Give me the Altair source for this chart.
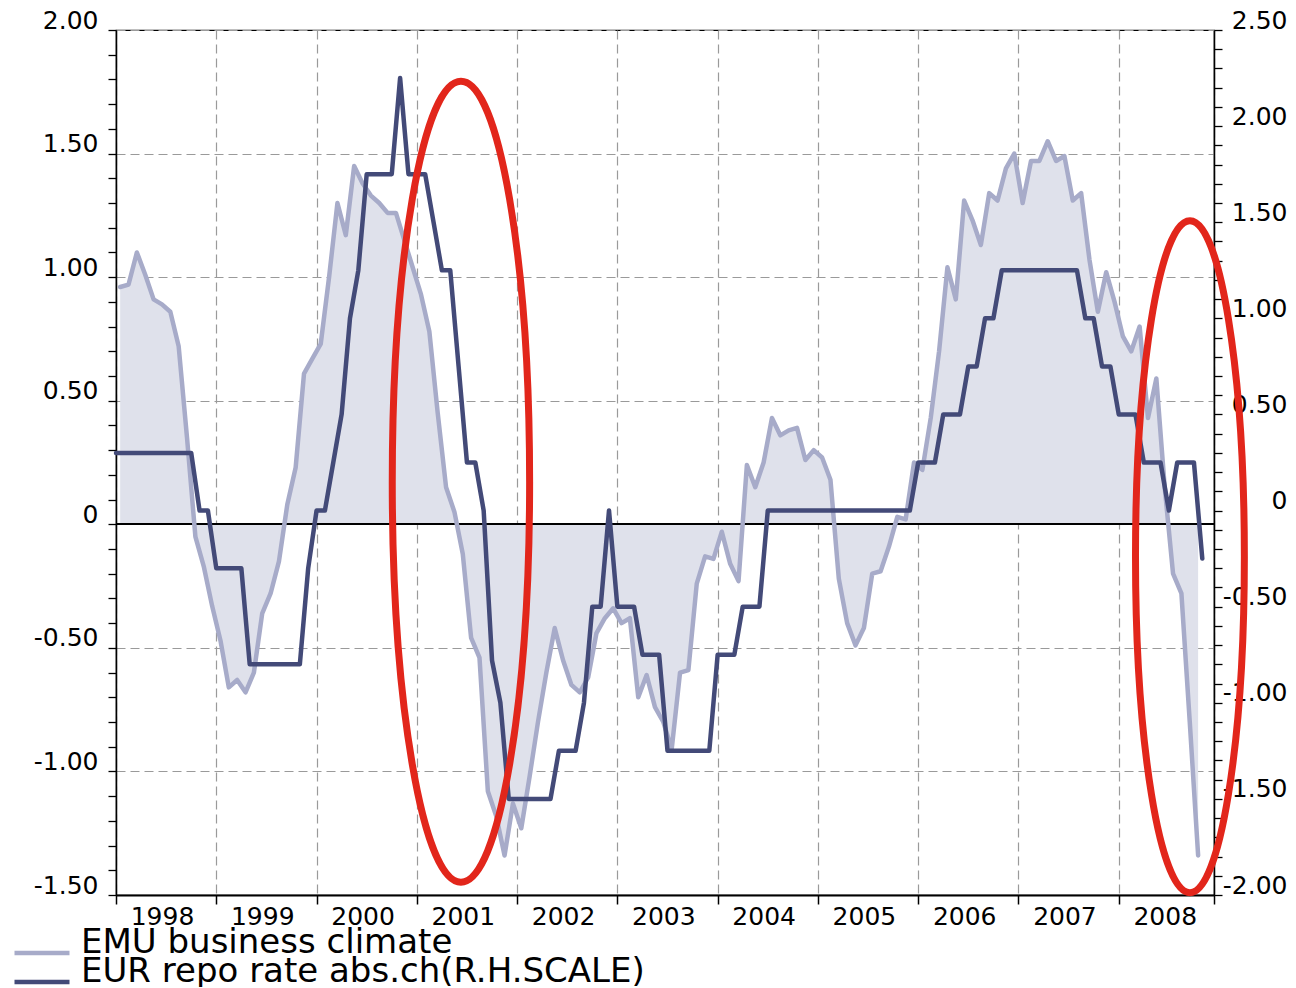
import altair as alt
import pandas as pd

# ---------------- data ----------------
series_names = ["EMU business climate", "EUR repo rate abs.ch(R.H.SCALE)"]
series_colors = ["#a7abc9", "#434a78"]
fill_color = "#dfe1eb"
red = "#e2261b"

# EMU business climate, monthly Jan 1998 .. Oct 2008 (left scale, plotted mid-month)
emu_values = [
    0.96, 0.97, 1.10, 1.01, 0.91, 0.89, 0.86, 0.72, 0.35, -0.05, -0.17, -0.33,
    -0.47, -0.66, -0.63, -0.68, -0.60, -0.36, -0.28, -0.15, 0.08, 0.23, 0.61, 0.67,
    0.73, 1.00, 1.30, 1.17, 1.45, 1.38, 1.33, 1.30, 1.26, 1.26, 1.15, 1.04,
    0.93, 0.78, 0.45, 0.15, 0.05, -0.12, -0.46, -0.54, -1.08, -1.18, -1.34, -1.13,
    -1.23, -1.02, -0.80, -0.60, -0.42, -0.55, -0.65, -0.68, -0.62, -0.44, -0.38, -0.34,
    -0.40, -0.38, -0.70, -0.61, -0.74, -0.80, -0.91, -0.60, -0.59, -0.24, -0.13, -0.14,
    -0.03, -0.16, -0.23, 0.24, 0.15, 0.25, 0.43, 0.36, 0.38, 0.39, 0.26, 0.30,
    0.27, 0.18, -0.22, -0.40, -0.49, -0.42, -0.20, -0.19, -0.09, 0.03, 0.02, 0.25,
    0.22, 0.43, 0.70, 1.04, 0.91, 1.31, 1.23, 1.13, 1.34, 1.31, 1.44, 1.50,
    1.30, 1.47, 1.47, 1.55, 1.47, 1.49, 1.31, 1.34, 1.07, 0.86, 1.02, 0.90,
    0.76, 0.70, 0.80, 0.43, 0.59, 0.15, -0.20, -0.28, -0.80, -1.34,
]

# EUR repo rate abs. change, month-end Dec 1997 .. Oct 2008 (right scale)
repo_values = [
    0.30, 0.30, 0.30, 0.30, 0.30, 0.30, 0.30, 0.30, 0.30, 0.30,
    0.00, 0.00, -0.30, -0.30, -0.30, -0.30,
    -0.80, -0.80, -0.80, -0.80, -0.80, -0.80, -0.80, -0.30, 0.00, 0.00,
    0.25, 0.50, 1.00, 1.25, 1.75, 1.75, 1.75, 1.75, 2.25, 1.75, 1.75, 1.75,
    1.50, 1.25, 1.25, 0.75, 0.25, 0.25, 0.00, -0.78, -1.00,
    -1.50, -1.50, -1.50, -1.50, -1.50, -1.50, -1.25, -1.25, -1.25, -1.00,
    -0.50, -0.50, 0.00, -0.50, -0.50, -0.50, -0.75, -0.75, -0.75,
    -1.25, -1.25, -1.25, -1.25, -1.25, -1.25, -0.75, -0.75, -0.75,
    -0.50, -0.50, -0.50,
    0.00, 0.00, 0.00, 0.00, 0.00, 0.00, 0.00, 0.00, 0.00, 0.00, 0.00, 0.00,
    0.00, 0.00, 0.00, 0.00, 0.00, 0.00,
    0.25, 0.25, 0.25, 0.50, 0.50, 0.50, 0.75, 0.75, 1.00, 1.00,
    1.25, 1.25, 1.25, 1.25, 1.25, 1.25, 1.25, 1.25, 1.25, 1.25,
    1.00, 1.00, 0.75, 0.75, 0.50, 0.50, 0.50, 0.25, 0.25, 0.25,
    0.00, 0.25, 0.25, 0.25, -0.25,
]

year_ticks = list(range(1998, 2009))
x_domain = [1998, 2008.95]
left_domain = [-1.5, 2.0]
right_domain = [-2.0, 2.5]

# red annotation ellipses: centres in (year, right-scale value)
ellipse_t = [2001.44, 2008.71]
ellipse_v = [0.15, -0.24]

# ---------------- tables ----------------
emu_df = pd.DataFrame({
    "t": [1998 + (i + 0.5) / 12 for i in range(len(emu_values))],
    "v": emu_values,
    "s": series_names[0],
})
repo_df = pd.DataFrame({
    "t": [1998 + j / 12 for j in range(len(repo_values))],
    "v": repo_values,
    "s": series_names[1],
})

FONT = "DejaVu Sans"

def ellipse_path(a):
    k = 0.5523
    return (f"M{a},0 C{a},{k} {a*k:.4f},1 0,1 C{-a*k:.4f},1 {-a},{k} {-a},0 "
            f"C{-a},{-k} {-a*k:.4f},-1 0,-1 C{a*k:.4f},-1 {a},{-k} {a},0 Z")

half_test = "abs(datum.value*2 - round(datum.value*2)) < 0.001"
label_expr = (f"({half_test}) ? (abs(datum.value) < 0.001 ? '0' : "
              "((datum.value < 0 ? '-' : '') + format(abs(datum.value), '.2f'))) : ''")

left_ticks = [round(-1.5 + 0.1 * k, 1) for k in range(36)]
right_ticks = [round(-2.0 + 0.1 * k, 1) for k in range(46)]

x_axis = alt.Axis(
    values=year_ticks + [x_domain[1]], tickCount=500,
    labelExpr="datum.value == round(datum.value) ? '' + datum.value : ''",
    title=None, grid=True, gridColor="#9a9a9a", gridDash=[9, 5], gridWidth=1.2,
    tickSize=9, tickWidth=1.5, tickColor="black", domainColor="black", domainWidth=2,
    labelOffset=46, labelPadding=0, labelFlush=False, labelOverlap=False,
    labelBound=False,
)
left_axis = alt.Axis(
    values=left_ticks, tickCount=500, labelExpr=label_expr, title=None, orient="left",
    grid=True, gridColor="#9a9a9a", gridDash=[9, 5], gridWidth=1.2,
    gridOpacity={"condition": {"test": half_test, "value": 1}, "value": 0},
    tickSize=8, tickWidth=1.3, tickColor="black", domainColor="black", domainWidth=1.5,
    labelPadding=10, labelBaseline="alphabetic", labelOffset=-2,
    labelOverlap=False, labelFlush=False, labelBound=False,
)
right_axis = alt.Axis(
    values=right_ticks, tickCount=500, labelExpr=label_expr, title=None, orient="right",
    grid=False, tickSize=8, tickWidth=1.3, tickColor="black", domainColor="black",
    domainWidth=1.5, labelAlign="right", labelPadding=65, labelBaseline="alphabetic",
    labelOffset=-2, labelOverlap=False, labelFlush=False, labelBound=False,
)

x_enc = alt.X("t:Q", scale=alt.Scale(domain=x_domain, nice=False, zero=False), axis=x_axis)
left_y = alt.Y("v:Q", scale=alt.Scale(domain=left_domain, nice=False, zero=False), axis=left_axis)
right_y = alt.Y("v:Q", scale=alt.Scale(domain=right_domain, nice=False, zero=False), axis=right_axis)


def legend_for(ly):
    return alt.Legend(
        orient="none", legendX=-104, legendY=ly, title=None, direction="vertical",
        symbolType="stroke", symbolSize=3025, symbolStrokeWidth=4.5,
        labelFont=FONT, labelFontSize=34, labelColor="black", labelBaseline="alphabetic",
        labelOffset=9, labelLimit=2000, padding=0,
    )


emu_color = alt.Color(
    "s:N", scale=alt.Scale(domain=series_names[:1], range=series_colors[:1]),
    legend=legend_for(893),
)
repo_color = alt.Color(
    "s:N", scale=alt.Scale(domain=series_names[1:], range=series_colors[1:]),
    legend=legend_for(922),
)

area = alt.Chart(emu_df).mark_area(color=fill_color, opacity=1).encode(
    x=x_enc, y=left_y, y2=alt.datum(0)
)
zero_rule = alt.Chart(emu_df).mark_rule(color="black", strokeWidth=1.2).encode(
    y=alt.datum(0)
)
emu_line = alt.Chart(emu_df).mark_line(strokeWidth=4.5, strokeJoin="round", strokeCap="round").encode(
    x=x_enc, y=left_y, color=emu_color
)
left_layer = alt.layer(area, zero_rule, emu_line)

repo_line = alt.Chart(repo_df).mark_line(strokeWidth=4.5, strokeJoin="round", strokeCap="round").encode(
    x=x_enc, y=right_y, color=repo_color
)
ell1 = alt.Chart(pd.DataFrame({"t": [ellipse_t[0]], "v": [ellipse_v[0]]})).mark_point(
    shape=ellipse_path(0.1715), size=801 ** 2, filled=False, stroke=red,
    strokeWidth=7, opacity=1, strokeOpacity=1,
).encode(x=x_enc, y=right_y)
ell2 = alt.Chart(pd.DataFrame({"t": [ellipse_t[1]], "v": [ellipse_v[1]]})).mark_point(
    shape=ellipse_path(0.162), size=672 ** 2, filled=False, stroke=red,
    strokeWidth=7, opacity=1, strokeOpacity=1,
).encode(x=x_enc, y=right_y)
right_layer = alt.layer(repo_line, ell1, ell2)

chart = (
    alt.layer(left_layer, right_layer)
    .resolve_scale(y="independent", color="independent")
    .properties(
        width=1098, height=865,
        autosize=alt.AutoSizeParams(type="none"),
        padding={"left": 108, "top": 22, "right": 74, "bottom": 92},
        background="white",
    )
    .configure_axis(labelFont=FONT, labelFontSize=25, labelColor="black")
    .configure_view(stroke="black", strokeWidth=1.2)
)

chart.save("out.html", embed_options={"renderer": "svg", "actions": False})
